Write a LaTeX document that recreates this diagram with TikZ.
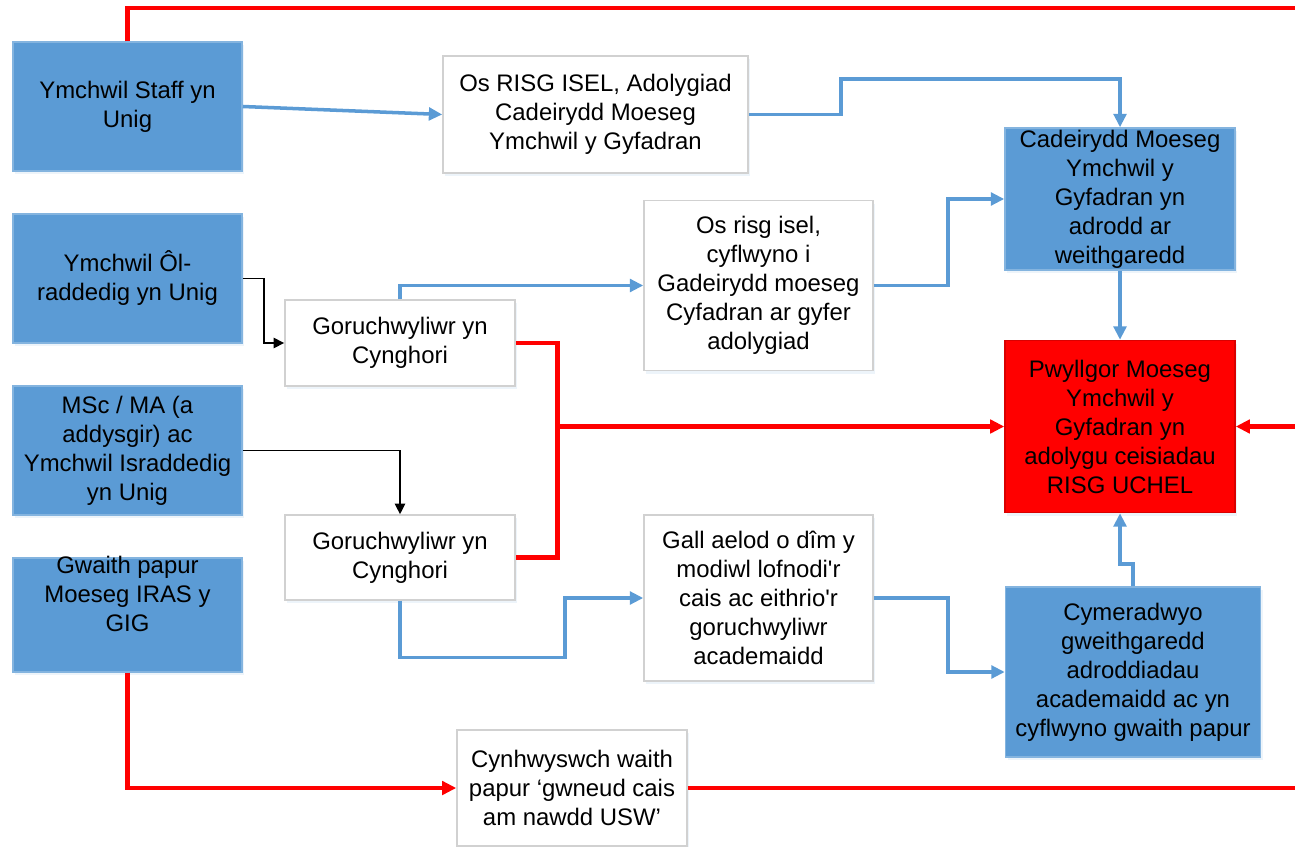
\documentclass[tikz,border=0pt]{standalone}
\usepackage{fontspec}
\setmainfont{Liberation Sans}
\usepackage{tikz}
\usetikzlibrary{calc,arrows.meta,shadows}
\definecolor{offblue}{HTML}{5B9BD5}
\definecolor{offred}{HTML}{FF0000}
\tikzset{%
  ftxt/.style={shape=rectangle,align=center,inner sep=0,font=\fontsize{6.8}{8.25}\selectfont},
  fbox/.style={ftxt,drop shadow={shadow xshift=.6pt,shadow yshift=-.9pt,opacity=.18,fill=offblue!60}},
  bbox/.style={fbox,draw=offblue!75!white,fill=offblue},
  wbox/.style={fbox,draw=black!18,fill=white},
  rbox/.style={fbox,draw=offred!85!black,fill=offred},
  bedge/.style={draw=offblue,line width=1pt,-{Triangle[length=3.8pt,width=3.6pt]}},
  redge/.style={draw=offred,line width=1.3pt,-{Triangle[length=4pt,width=3.8pt]}},
  kedge/.style={draw=black,line width=.45pt,-{Triangle[length=3pt,width=2.9pt]}}
}
\begin{document}
\begin{tikzpicture}[x=.01cm,y=-.01cm]
    \useasboundingbox (0,0) rectangle (1295,846);
    \path
      (127.5,106.5) node[bbox,minimum width=2.29cm,minimum height=1.29cm] (staff) {Ymchwil Staff yn\\Unig}
      (127.5,278.5) node[bbox,minimum width=2.29cm,minimum height=1.29cm] (olrad) {Ymchwil Ôl-\\raddedig yn Unig}
      (127.5,450.5) node[bbox,minimum width=2.29cm,minimum height=1.29cm] (msc) {MSc / MA (a\\addysgir) ac\\Ymchwil Israddedig\\yn Unig}
      (127.5,615)   node[bbox,minimum width=2.29cm,minimum height=1.14cm] (iras) {};
    \node[ftxt,anchor=north] (irastxt) at ($(iras.north)+(0,-2)$) {Gwaith papur\\Moeseg IRAS y\\GIG};
    \path
      (595.5,114.5) node[wbox,minimum width=3.05cm,minimum height=1.17cm] (isel) {Os RISG ISEL, Adolygiad\\Cadeirydd Moeseg\\Ymchwil y Gyfadran}
      (400,343)     node[wbox,minimum width=2.30cm,minimum height=.86cm] (sup1) {Goruchwyliwr yn\\Cynghori}
      (400,557.5)   node[wbox,minimum width=2.30cm,minimum height=.85cm] (sup2) {Goruchwyliwr yn\\Cynghori}
      (758.5,285.5) node[wbox,minimum width=2.29cm,minimum height=1.70cm] (risg) {Os risg isel,\\cyflwyno i\\Gadeirydd moeseg\\Cyfadran ar gyfer\\adolygiad}
      (758.5,598)   node[wbox,minimum width=2.29cm,minimum height=1.66cm] (gall) {Gall aelod o dîm y\\modiwl lofnodi\textquotesingle r\\cais ac eithrio\textquotesingle r\\goruchwyliwr\\academaidd}
      (1120,199)    node[bbox,minimum width=2.30cm,minimum height=1.42cm] (cad) {Cadeirydd Moeseg\\Ymchwil y\\Gyfadran yn\\adrodd ar\\weithgaredd}
      (1120,426.5)  node[rbox,minimum width=2.30cm,minimum height=1.72cm] (pwy) {Pwyllgor Moeseg\\Ymchwil y\\Gyfadran yn\\adolygu ceisiadau\\RISG UCHEL}
      (1133,672)    node[bbox,minimum width=2.55cm,minimum height=1.70cm] (cym) {Cymeradwyo\\gweithgaredd\\adroddiadau\\academaidd ac yn\\cyflwyno gwaith papur}
      (572,788)     node[wbox,minimum width=2.30cm,minimum height=1.16cm] (cyn) {Cynhwyswch waith\\papur ‘gwneud cais\\am nawdd USW’};
    \coordinate (rtop) at (1295,8);
    \coordinate (rmid) at (1295,426.5);
    \coordinate (rlow) at (1295,788);
    \coordinate (rjoin) at ($(sup1.east)+(42,0)$);
    \draw[redge,-] (staff.north) |- (rtop);
    \draw[bedge] (staff.east) -- (isel.west);
    \draw[bedge] (isel.east) -- ++(92,0) |- ($(cad.north)+(0,-48)$) -- (cad.north);
    \draw[kedge] (olrad.east) -- ++(21,0) |- (sup1.west);
    \draw[kedge] (msc.east) -| (sup2.north);
    \draw[bedge] (sup1.north) |- (risg.west);
    \draw[bedge] (risg.east) -- ++(74,0) |- (cad.west);
    \draw[bedge] (cad.south) -- (pwy.north);
    \draw[redge,-] (sup1.east) -- (rjoin) |- (sup2.east);
    \draw[redge] (rjoin |- pwy.west) -- (pwy.west);
    \draw[redge] (rmid) -- (pwy.east);
    \draw[bedge] (sup2.south) -- ++(0,57) -- ++(165,0) |- (gall.west);
    \draw[bedge] (gall.east) -- ++(74,0) |- (cym.west);
    \draw[bedge] (cym.north) -- ++(0,-22) -| (pwy.south);
    \draw[redge] (iras.south) |- (cyn.west);
    \draw[redge,-] (cyn.east) -- (rlow);
  \end{tikzpicture}
\end{document}
